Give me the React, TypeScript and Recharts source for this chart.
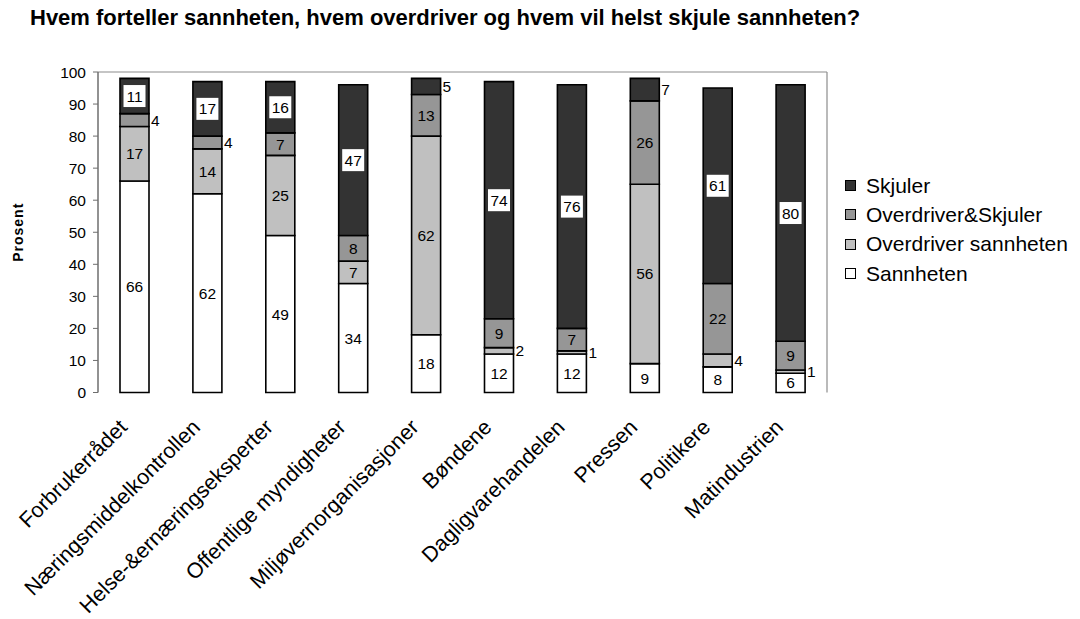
import React from 'react';
import { BarChart, Bar, XAxis, YAxis, LabelList, ReferenceLine, Legend } from 'recharts';

const FONT = '"Liberation Sans", Arial, sans-serif';

const categories = [
  'Forbrukerrådet',
  'Næringsmiddelkontrollen',
  'Helse-&ernæringseksperter',
  'Offentlige myndigheter',
  'Miljøvernorganisasjoner',
  'Bøndene',
  'Dagligvarehandelen',
  'Pressen',
  'Politikere',
  'Matindustrien',
];

// stacked from the bottom up
const sannheten = [66, 62, 49, 34, 18, 12, 12, 9, 8, 6];
const overdriverSannheten = [17, 14, 25, 7, 62, 2, 1, 56, 4, 1];
const overdriverSkjuler = [4, 4, 7, 8, 13, 9, 7, 26, 22, 9];
const skjuler = [11, 17, 16, 47, 5, 74, 76, 7, 61, 80];

const legendOrder = ['Skjuler', 'Overdriver&Skjuler', 'Overdriver sannheten', 'Sannheten'];

const yTicks = [0, 10, 20, 30, 40, 50, 60, 70, 80, 90, 100];
const edgeTicks = [0, 1, 2, 3, 4, 5, 6, 7, 8, 9, 10];

const data = categories.map((name, i) => ({
  name,
  edge: i + 0.5,
  sannheten: sannheten[i],
  overdriverSannheten: overdriverSannheten[i],
  overdriverSkjuler: overdriverSkjuler[i],
  skjuler: skjuler[i],
}));

// small segments get their number outside to the right
const isOutside = (key: string, v: number) => v <= 5 || (key === 'skjuler' && v <= 7);

const makeLabel = (key: string) => (props: any) => {
  const { x, y, width, height, value } = props;
  const v = Number(value);
  const cy = y + height / 2;
  if (isOutside(key, v)) {
    return (
      <text x={x + width + 2} y={cy} dy="0.36em" fontSize={15.5} fontFamily={FONT} fill="#000">
        {v}
      </text>
    );
  }
  const cx = x + width / 2;
  return (
    <g>
      {key === 'skjuler' && (
        <rect x={cx - 11} y={cy - 11} width={22} height={22} fill="#fff" />
      )}
      <text x={cx} y={cy} dy="0.36em" textAnchor="middle" fontSize={15.5} fontFamily={FONT} fill="#000">
        {v}
      </text>
    </g>
  );
};

const CatTick = (props: any) => {
  const { x, y, payload } = props;
  const ax = x - 6;
  const ay = y + 36;
  return (
    <text
      x={ax}
      y={ay}
      textAnchor="end"
      fontSize={21.5}
      fontFamily={FONT}
      fill="#000"
      transform={`rotate(-45, ${ax}, ${ay})`}
    >
      {payload.value}
    </text>
  );
};

const LegendBox = (props: any) => {
  const payload = props.payload || [];
  const items = legendOrder
    .map((n) => payload.find((p: any) => p.value === n))
    .filter(Boolean);
  return (
    <div style={{ fontFamily: FONT, fontSize: 21, color: '#000' }}>
      {items.map((it: any) => (
        <div key={it.value} style={{ display: 'flex', alignItems: 'center', height: 29.3 }}>
          <span
            style={{
              display: 'inline-block',
              width: 9,
              height: 9,
              border: '1px solid #000',
              background: it.color,
              marginRight: 10,
            }}
          />
          <span>{it.value}</span>
        </div>
      ))}
    </div>
  );
};

export default function App() {
  return (
    <div style={{ position: 'absolute', left: 0, top: 0, width: 1080, height: 619, background: '#fff' }}>
      <div
        style={{
          position: 'absolute',
          left: 30,
          top: 7,
          fontFamily: FONT,
          fontWeight: 'bold',
          fontSize: 22,
          lineHeight: '22px',
          whiteSpace: 'nowrap',
          color: '#000',
        }}
      >
        Hvem forteller sannheten, hvem overdriver og hvem vil helst skjule sannheten?
      </div>
      <BarChart
        width={1080}
        height={619}
        data={data}
        margin={{ top: 72, right: 253, left: 0, bottom: 76.5 }}
        barSize={29}
        style={{ position: 'absolute', left: 0, top: 0 }}
      >
        <XAxis
          xAxisId="edges"
          dataKey="edge"
          type="number"
          domain={[0, 10]}
          ticks={edgeTicks}
          interval={0}
          height={0}
          tick={false}
          tickSize={7}
          stroke="#6e6e6e"
          axisLine={{ stroke: '#6e6e6e', strokeWidth: 1.5 }}
        />
        <XAxis
          xAxisId="cat"
          dataKey="name"
          height={150}
          interval={0}
          tickSize={0}
          tickMargin={0}
          tickLine={false}
          axisLine={false}
          tick={<CatTick />}
        />
        <YAxis
          domain={[0, 100]}
          ticks={yTicks}
          interval={0}
          width={98}
          tickSize={5}
          tickMargin={7}
          stroke="#6e6e6e"
          axisLine={{ stroke: '#6e6e6e', strokeWidth: 1.5 }}
          tick={{ fontSize: 15.5, fontFamily: FONT, fill: '#000' }}
          label={{
            value: 'Prosent',
            angle: -90,
            position: 'center',
            dx: -31,
            style: { fontFamily: FONT, fontSize: 14, fontWeight: 'bold', fill: '#000', letterSpacing: 1 },
          }}
        />
        <ReferenceLine xAxisId="edges" y={100} stroke="#8c8c8c" strokeWidth={1.2} />
        <ReferenceLine xAxisId="edges" x={10} stroke="#8c8c8c" strokeWidth={1.2} />
        <Bar xAxisId="cat" dataKey="sannheten" name="Sannheten" stackId="a" fill="#ffffff" stroke="#000" strokeWidth={1.6} isAnimationActive={false}>
          <LabelList dataKey="sannheten" content={makeLabel('sannheten')} />
        </Bar>
        <Bar xAxisId="cat" dataKey="overdriverSannheten" name="Overdriver sannheten" stackId="a" fill="#c0c0c0" stroke="#000" strokeWidth={1.6} isAnimationActive={false}>
          <LabelList dataKey="overdriverSannheten" content={makeLabel('overdriverSannheten')} />
        </Bar>
        <Bar xAxisId="cat" dataKey="overdriverSkjuler" name="Overdriver&Skjuler" stackId="a" fill="#969696" stroke="#000" strokeWidth={1.6} isAnimationActive={false}>
          <LabelList dataKey="overdriverSkjuler" content={makeLabel('overdriverSkjuler')} />
        </Bar>
        <Bar xAxisId="cat" dataKey="skjuler" name="Skjuler" stackId="a" fill="#333333" stroke="#000" strokeWidth={1.6} isAnimationActive={false}>
          <LabelList dataKey="skjuler" content={makeLabel('skjuler')} />
        </Bar>
        <Legend
          layout="vertical"
          align="center"
          verticalAlign="middle"
          content={<LegendBox />}
          wrapperStyle={{ position: 'absolute', left: 845, top: 171, width: 235, height: 'auto' }}
        />
      </BarChart>
    </div>
  );
}
